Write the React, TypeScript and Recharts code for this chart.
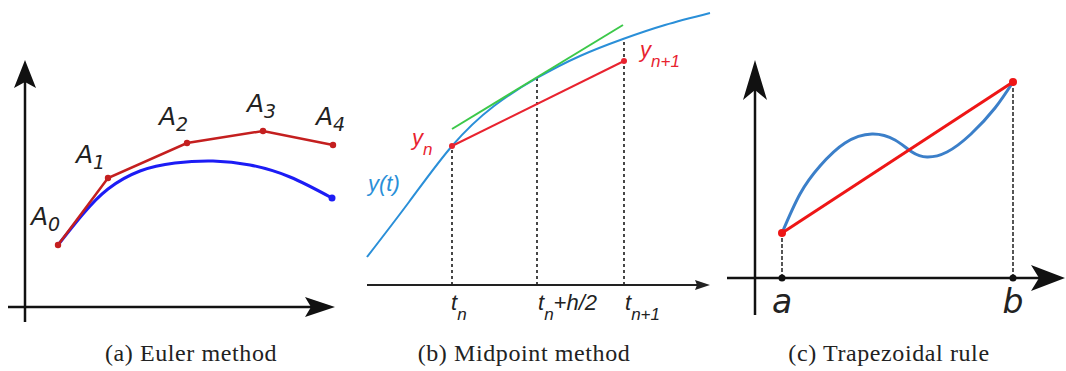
import React from "react";
import {
    ComposedChart,
    Line,
    Scatter,
    XAxis,
    YAxis,
    ReferenceLine,
} from "recharts";

// ---- panel (a): Euler method ----
const eulerSteps = [
    { x: 3.3, y: 6.2 },
    { x: 8.3, y: 12.9 },
    { x: 16.2, y: 16.4 },
    { x: 23.8, y: 17.6 },
    { x: 30.8, y: 16.2 },
];
const eulerExact = [
    { x: 3.3, y: 6.2 },
    { x: 5.8, y: 9.3 },
    { x: 8.3, y: 11.8 },
    { x: 11.5, y: 13.6 },
    { x: 15.0, y: 14.4 },
    { x: 18.8, y: 14.6 },
    { x: 22.5, y: 14.2 },
    { x: 26.5, y: 13.0 },
    { x: 30.7, y: 10.9 },
];
const eulerLabels = [
    { x: 0.6, y: 8.2, main: "A", sub: "0" },
    { x: 5.1, y: 14.4, main: "A", sub: "1" },
    { x: 13.4, y: 18.2, main: "A", sub: "2" },
    { x: 22.2, y: 19.5, main: "A", sub: "3" },
    { x: 29.1, y: 18.2, main: "A", sub: "4" },
];

// ---- panel (b): midpoint method ----
const midExact = [
    { x: 0, y: 2.8 },
    { x: 4.2, y: 8.3 },
    { x: 8.5, y: 13.9 },
    { x: 12.7, y: 17.9 },
    { x: 17.0, y: 20.7 },
    { x: 21.3, y: 22.9 },
    { x: 25.6, y: 24.6 },
    { x: 29.8, y: 26.0 },
    { x: 34.3, y: 27.2 },
];
const midTangent = [
    { x: 8.5, y: 15.6 },
    { x: 25.6, y: 26.0 },
];
const midStep = [
    { x: 8.5, y: 13.9 },
    { x: 25.7, y: 22.4 },
];
const midGuides = [
    { x: 8.5, top: 13.9 },
    { x: 17.0, top: 20.7 },
    { x: 25.7, top: 24.3 },
];
const midLabels = [
    { x: 4.5, y: 14.0, main: "y", sub: "n", tail: "", color: "#e8232f" },
    { x: 27.3, y: 22.8, main: "y", sub: "n+1", tail: "", color: "#e8232f" },
    { x: 0.1, y: 9.4, main: "y(t)", sub: "", tail: "", color: "#2a8fd8" },
    { x: 8.4, y: -2.5, main: "t", sub: "n", tail: "", color: "#222" },
    { x: 17.1, y: -2.5, main: "t", sub: "n", tail: "+h/2", color: "#222" },
    { x: 25.8, y: -2.5, main: "t", sub: "n+1", tail: "", color: "#222" },
];

// ---- panel (c): trapezoidal rule ----
const trapChord = [
    { x: 2.7, y: 4.5 },
    { x: 25.8, y: 19.6 },
];
const trapCurve = [
    { x: 2.7, y: 4.5 },
    { x: 4.5, y: 8.4 },
    { x: 6.5, y: 11.2 },
    { x: 9.0, y: 13.5 },
    { x: 11.7, y: 14.4 },
    { x: 14.0, y: 13.8 },
    { x: 15.7, y: 12.6 },
    { x: 17.2, y: 12.1 },
    { x: 19.2, y: 12.6 },
    { x: 21.6, y: 14.4 },
    { x: 24.0, y: 17.0 },
    { x: 25.8, y: 19.6 },
];
const trapEnds = [
    { x: 2.7, y: 0, name: "a" },
    { x: 25.8, y: 0, name: "b" },
];

const captions = [
    { text: "(a) Euler method", center: 191 },
    { text: "(b) Midpoint method", center: 524 },
    { text: "(c) Trapezoidal rule", center: 889 },
];

// line + stealth arrowhead drawn from the reference line's scaled endpoints
const arrowShape =
    (len: number, half: number, notch: number) => (p: any) => {
        const { x1, y1, x2, y2, stroke, strokeWidth } = p;
        const dx = x2 - x1;
        const dy = y2 - y1;
        const L = Math.hypot(dx, dy) || 1;
        const ux = dx / L;
        const uy = dy / L;
        const nx = -uy;
        const ny = ux;
        const bx = x2 - ux * len;
        const by = y2 - uy * len;
        const mx = x2 - ux * (len - notch);
        const my = y2 - uy * (len - notch);
        const pts = [
            [x2, y2],
            [bx + nx * half, by + ny * half],
            [mx, my],
            [bx - nx * half, by - ny * half],
        ]
            .map((q) => q.join(","))
            .join(" ");
        return (
            <g>
                <line x1={x1} y1={y1} x2={mx} y2={my} stroke={stroke} strokeWidth={strokeWidth} />
                <polygon points={pts} fill={stroke} />
            </g>
        );
    };

const subLabel =
    (family: string, size: number, subSize: number, shift: number, anchor: string) =>
    (p: any) => {
        const { cx, cy, payload } = p;
        return (
            <text
                x={cx}
                y={cy}
                fontFamily={family}
                fontStyle="italic"
                fontSize={size}
                fill={payload.color || "#222"}
                textAnchor={anchor}
            >
                {payload.main || payload.name}
                {payload.sub ? (
                    <tspan dy={shift} fontSize={subSize}>
                        {payload.sub}
                    </tspan>
                ) : null}
                {payload.tail ? <tspan dy={-shift}>{payload.tail}</tspan> : null}
            </text>
        );
    };

function EulerPanel() {
    const last = eulerExact[eulerExact.length - 1];
    return (
        <div style={{ position: "absolute", left: 0, top: 40 }}>
            <ComposedChart width={345} height={290} margin={{ top: 0, right: 0, bottom: 0, left: 0 }}>
                <XAxis type="number" dataKey="x" domain={[-2.5, 32]} allowDataOverflow hide />
                <YAxis type="number" dataKey="y" domain={[-2.3, 26.7]} allowDataOverflow hide />
                <ReferenceLine
                    segment={[{ x: 0, y: -1.5 }, { x: 0, y: 24.7 }]}
                    stroke="#111"
                    strokeWidth={2.5}
                    ifOverflow="visible"
                    shape={arrowShape(28, 11, 6)}
                />
                <ReferenceLine
                    segment={[{ x: -1.7, y: 0 }, { x: 31, y: 0 }]}
                    stroke="#111"
                    strokeWidth={2.5}
                    ifOverflow="visible"
                    shape={arrowShape(30, 10, 6)}
                />
                <Line
                    data={eulerExact}
                    dataKey="y"
                    type="natural"
                    stroke="#1c1cf5"
                    strokeWidth={3}
                    dot={false}
                    isAnimationActive={false}
                />
                <Scatter
                    data={[last]}
                    dataKey="y"
                    fill="#1c1cf5"
                    shape={(p: any) => <circle cx={p.cx} cy={p.cy} r={3.5} fill="#1c1cf5" />}
                    isAnimationActive={false}
                />
                <Line
                    data={eulerSteps}
                    dataKey="y"
                    type="linear"
                    stroke="#c41f1f"
                    strokeWidth={2.5}
                    dot={{ r: 3.2, fill: "#c41f1f", stroke: "none" }}
                    isAnimationActive={false}
                />
                <Scatter
                    data={eulerLabels}
                    dataKey="y"
                    shape={subLabel("DejaVu Sans", 25, 19, 6, "start")}
                    isAnimationActive={false}
                />
            </ComposedChart>
        </div>
    );
}

function MidpointPanel() {
    return (
        <div style={{ position: "absolute", left: 355, top: 0 }}>
            <ComposedChart width={360} height={330} margin={{ top: 0, right: 0, bottom: 0, left: 0 }}>
                <XAxis type="number" dataKey="x" domain={[-1.2, 34.8]} allowDataOverflow hide />
                <YAxis type="number" dataKey="y" domain={[-4.5, 28.5]} allowDataOverflow hide />
                {midGuides.map((g) => (
                    <ReferenceLine
                        key={g.x}
                        segment={[{ x: g.x, y: 0 }, { x: g.x, y: g.top }]}
                        stroke="#333"
                        strokeWidth={1.8}
                        strokeDasharray="3 3"
                        ifOverflow="visible"
                    />
                ))}
                <ReferenceLine
                    segment={[{ x: 0, y: 0 }, { x: 34.3, y: 0 }]}
                    stroke="#222"
                    strokeWidth={1.8}
                    ifOverflow="visible"
                    shape={arrowShape(15, 5, 2)}
                />
                <Line
                    data={midExact}
                    dataKey="y"
                    type="natural"
                    stroke="#2a8fd8"
                    strokeWidth={2}
                    dot={false}
                    isAnimationActive={false}
                />
                <Line
                    data={midTangent}
                    dataKey="y"
                    type="linear"
                    stroke="#3cc84a"
                    strokeWidth={2}
                    dot={false}
                    isAnimationActive={false}
                />
                <Line
                    data={midStep}
                    dataKey="y"
                    type="linear"
                    stroke="#e8232f"
                    strokeWidth={2}
                    dot={{ r: 3, fill: "#e8232f", stroke: "none" }}
                    isAnimationActive={false}
                />
                <Scatter
                    data={midLabels}
                    dataKey="y"
                    shape={subLabel("Liberation Sans", 22, 17, 10, "start")}
                    isAnimationActive={false}
                />
            </ComposedChart>
        </div>
    );
}

function TrapezoidPanel() {
    return (
        <div style={{ position: "absolute", left: 720, top: 40 }}>
            <ComposedChart width={346} height={290} margin={{ top: 0, right: 0, bottom: 0, left: 0 }}>
                <XAxis type="number" dataKey="x" domain={[-3.5, 31.1]} allowDataOverflow hide />
                <YAxis type="number" dataKey="y" domain={[-5.2, 23.8]} allowDataOverflow hide />
                {trapChord.map((c) => (
                    <ReferenceLine
                        key={c.x}
                        segment={[{ x: c.x, y: 0 }, { x: c.x, y: c.y }]}
                        stroke="#444"
                        strokeWidth={1.8}
                        strokeDasharray="4 2"
                        ifOverflow="visible"
                    />
                ))}
                <ReferenceLine
                    segment={[{ x: 0, y: -3.7 }, { x: 0, y: 21.8 }]}
                    stroke="#111"
                    strokeWidth={2.5}
                    ifOverflow="visible"
                    shape={arrowShape(40, 12, 10)}
                />
                <ReferenceLine
                    segment={[{ x: -2.8, y: 0 }, { x: 31.0, y: 0 }]}
                    stroke="#111"
                    strokeWidth={2.5}
                    ifOverflow="visible"
                    shape={arrowShape(34, 13, 8)}
                />
                <Line
                    data={trapCurve}
                    dataKey="y"
                    type="natural"
                    stroke="#3b7fc9"
                    strokeWidth={3}
                    dot={false}
                    isAnimationActive={false}
                />
                <Line
                    data={trapChord}
                    dataKey="y"
                    type="linear"
                    stroke="#ee1616"
                    strokeWidth={3}
                    dot={{ r: 4, fill: "#ee1616", stroke: "none" }}
                    isAnimationActive={false}
                />
                <Scatter
                    data={trapEnds}
                    dataKey="y"
                    shape={(p: any) => <circle cx={p.cx} cy={p.cy} r={3.5} fill="#111" />}
                    isAnimationActive={false}
                />
                <Scatter
                    data={trapEnds.map((e) => ({ ...e, y: -3.5 }))}
                    dataKey="y"
                    shape={subLabel("DejaVu Sans", 33, 20, 0, "middle")}
                    isAnimationActive={false}
                />
            </ComposedChart>
        </div>
    );
}

export default function App() {
    return (
        <div
            style={{
                position: "absolute",
                left: 0,
                top: 0,
                width: 1066,
                height: 371,
                background: "#fff",
                overflow: "hidden",
            }}
        >
            <EulerPanel />
            <MidpointPanel />
            <TrapezoidPanel />
            {captions.map((c) => (
                <div
                    key={c.text}
                    style={{
                        position: "absolute",
                        left: c.center - 160,
                        width: 320,
                        top: 338,
                        textAlign: "center",
                        fontFamily: "'Liberation Serif', serif",
                        fontSize: 24,
                        letterSpacing: 0.6,
                        color: "#222",
                        lineHeight: "30px",
                        whiteSpace: "nowrap",
                    }}
                >
                    {c.text}
                </div>
            ))}
        </div>
    );
}
